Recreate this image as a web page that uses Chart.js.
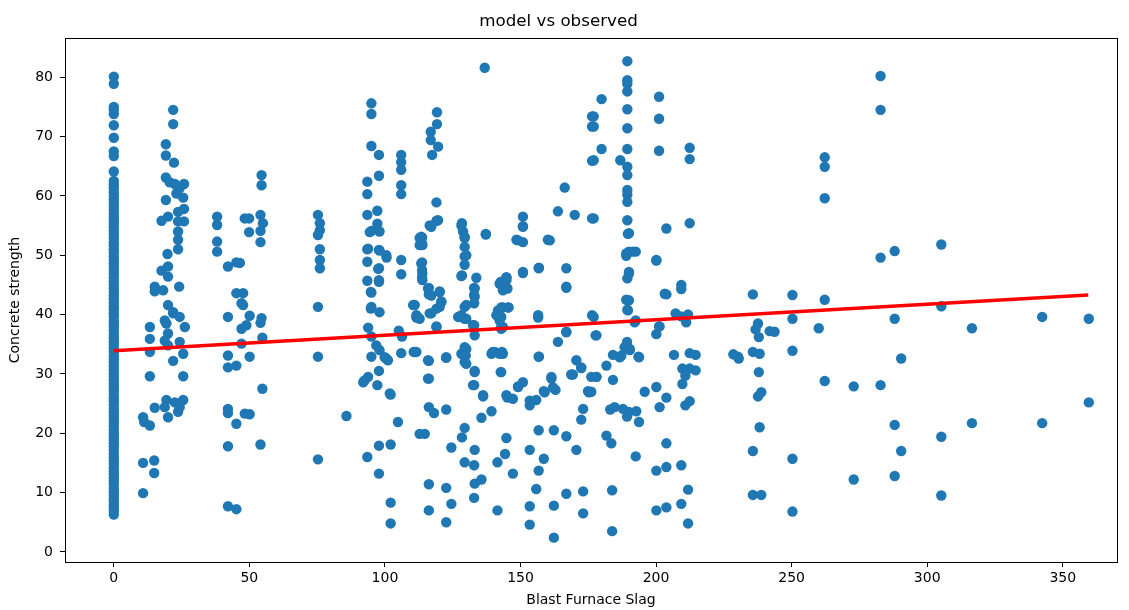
<!DOCTYPE html>
<html>
<head>
<meta charset="utf-8">
<title>model vs observed</title>
<script src="https://cdn.jsdelivr.net/npm/chart.js@4.4.1/dist/chart.umd.min.js"></script>
<style>
  html, body { margin: 0; padding: 0; background: #fff; }
  #wrap { width: 1129px; height: 610px; }
</style>
</head>
<body>
<div id="wrap"><canvas id="chart" width="1129" height="610"></canvas></div>
<script>
// Concrete strength against blast furnace slag content

// axis ticks
const xTicks = [0, 50, 100, 150, 200, 250, 300, 350];
const yTicks = [0, 10, 20, 30, 40, 50, 60, 70, 80];

// fitted regression line (slag -> strength)
const fitSlag = [0, 359.4];
const fitStrength = [33.9, 43.3];

// mixes with no slag at all
const zeroSlagStrength = [
  6.3, 6.9, 7.5, 8.0, 8.5, 9.0, 9.6, 10.1, 10.7, 11.4, 12.0, 12.5, 13.1, 13.6,
  14.2, 14.8, 15.4, 15.9, 16.5, 17.2, 17.8, 18.3, 18.9, 19.4, 20.0, 20.6, 21.3,
  21.9, 22.4, 23.0, 23.6, 24.1, 24.8, 25.4, 25.9, 26.5, 27.2, 27.7, 28.3, 28.9,
  29.5, 30.1, 30.7, 31.3, 31.9, 32.5, 33.0, 33.7, 34.3, 34.9, 35.4, 36.0, 36.6,
  37.3, 37.9, 38.5, 39.0, 39.7, 40.2, 40.9, 41.4, 42.0, 42.6, 43.2, 43.8, 44.4,
  45.0, 45.6, 46.2, 46.9, 47.4, 48.0, 48.6, 49.2, 49.8, 50.5, 51.0, 51.7, 52.2,
  52.9, 53.5, 54.1, 54.7, 55.3, 55.9, 56.4, 57.0, 57.6, 58.3, 58.8, 59.4, 60.0,
  60.6, 61.3, 61.9, 62.5, 64.1, 66.7, 67.5, 69.8, 71.9, 73.8, 74.5, 75.0, 78.9, 80.1
];

// [slag, strength] pairs, slag up to ~60
const slagLow = [
  [10.8, 22.7], [11.2, 21.9], [13.3, 21.3], [10.8, 15.0], [14.9, 15.4], [14.9, 13.3], [10.8, 9.9],
  [13.3, 37.9], [13.3, 35.9], [13.3, 33.7], [13.3, 29.6], [15.1, 24.3],
  [19.4, 38.5], [20.0, 36.8], [18.8, 35.6], [20.0, 34.8], [24.3, 35.4], [25.6, 33.4], [21.9, 32.2],
  [25.6, 29.6], [19.4, 25.6], [18.8, 24.4], [20.0, 22.7], [23.7, 23.6], [25.6, 25.6], [22.5, 25.2],
  [24.3, 24.4], [18.8, 39.0], [21.9, 40.4], [24.3, 39.6], [26.2, 37.9],
  [21.9, 74.5], [21.9, 72.1], [19.2, 68.7], [19.2, 66.8], [22.2, 65.6], [19.2, 63.1], [20.6, 62.3],
  [22.5, 62.0], [25.9, 62.0], [19.2, 59.3], [25.6, 59.7], [23.1, 60.4], [24.3, 61.3], [25.9, 57.8],
  [23.7, 57.3], [17.6, 55.8], [20.0, 56.5], [23.7, 55.7], [25.9, 55.7], [23.7, 54.0], [23.7, 52.6],
  [23.7, 51.0], [19.8, 50.2], [17.6, 47.4], [20.0, 48.1], [20.0, 46.4], [15.1, 44.7], [15.1, 43.9],
  [18.2, 44.1], [24.1, 44.7], [20.0, 41.6], [21.9, 40.2],
  [38.1, 56.5], [38.1, 55.1], [38.1, 52.3], [38.1, 50.6], [42.1, 48.1], [45.2, 48.8], [45.2, 43.6],
  [47.1, 41.9], [48.3, 56.2], [42.1, 39.6], [42.1, 33.1], [42.1, 31.1], [45.2, 31.4], [42.1, 24.1],
  [42.1, 23.4], [45.2, 21.6], [42.1, 17.8], [42.1, 7.7], [45.2, 7.2], [47.1, 37.6], [47.1, 35.1],
  [48.3, 23.3], [54.5, 63.5], [54.5, 61.8], [49.9, 56.2], [49.9, 53.9], [54.1, 56.8], [55.0, 55.4],
  [54.1, 54.1], [54.1, 52.2], [47.7, 43.6], [47.7, 41.6], [46.5, 48.7], [50.1, 39.8], [54.5, 39.4],
  [48.9, 38.2], [54.1, 38.6], [54.8, 36.1], [50.1, 32.9], [54.8, 27.5], [50.1, 23.2], [54.1, 18.1]
];

// slag ~75 to ~125
const slagMid = [
  [75.3, 56.8], [76.0, 55.4], [76.0, 54.2], [75.3, 53.4], [76.0, 51.0], [76.0, 49.2], [76.0, 47.8],
  [75.3, 41.3], [75.3, 32.9], [85.8, 22.9], [75.3, 15.6],
  [95.0, 75.6], [95.0, 73.8], [95.0, 68.4], [97.8, 66.9], [106.0, 66.9], [106.0, 65.7], [106.0, 64.4],
  [106.0, 61.8], [106.0, 60.3], [97.8, 63.4], [93.5, 62.4], [93.5, 60.3], [93.5, 56.8], [97.2, 57.5],
  [97.2, 55.3], [95.0, 54.1], [98.0, 54.0], [93.5, 51.0], [97.8, 50.9], [100.6, 49.6], [93.5, 48.9],
  [97.8, 47.8], [97.8, 45.8], [93.5, 45.7], [95.0, 43.7], [95.0, 41.3], [98.0, 40.4], [106.0, 49.2],
  [106.0, 46.8], [110.4, 41.6], [111.6, 39.9], [112.8, 52.9], [112.8, 51.7],
  [93.8, 37.8], [95.0, 36.3], [96.8, 34.8], [95.0, 32.9], [98.0, 34.0], [99.9, 32.8], [101.1, 32.3],
  [97.8, 30.5], [92.0, 28.6], [93.8, 29.5], [97.2, 28.1], [102.1, 26.5], [104.8, 21.9], [97.8, 17.9],
  [102.1, 18.1], [93.5, 16.0], [97.8, 13.2], [102.1, 8.3], [102.1, 4.8], [105.1, 37.3], [106.3, 36.3],
  [106.0, 33.5], [110.6, 33.7], [111.6, 39.5], [112.8, 19.9],
  [94.4, 53.9], [93.8, 51.1], [100.5, 50.0], [97.5, 47.7], [94.8, 43.8], [94.8, 41.0], [98.0, 50.8],
  [97.8, 45.5], [100.5, 32.6], [92.5, 28.9], [101.8, 26.7],
  [113.4, 53.1], [113.8, 51.7], [113.4, 48.6], [113.8, 46.9], [113.8, 45.8], [115.9, 44.4],
  [117.1, 43.2], [120.2, 43.8], [120.8, 42.1], [119.0, 41.0], [116.5, 40.2], [119.0, 37.9],
  [115.9, 32.3], [115.9, 29.2], [122.6, 32.8], [116.5, 55.0], [119.6, 55.9], [111.0, 41.6],
  [112.2, 39.5], [111.0, 33.7],
  [119.2, 74.1], [119.2, 72.1], [116.9, 70.8], [116.9, 69.4], [119.6, 68.3], [117.4, 66.9],
  [119.0, 58.9], [119.0, 55.8], [117.1, 54.8], [113.7, 53.0], [113.7, 52.0], [113.7, 48.8],
  [113.7, 47.5], [113.7, 46.2], [116.2, 44.5], [116.2, 43.4], [120.2, 43.9], [120.8, 42.2],
  [120.2, 41.3], [117.1, 40.2], [112.8, 39.3], [119.0, 38.0], [111.6, 33.7], [116.2, 32.2],
  [122.6, 32.7], [116.2, 29.2], [116.2, 24.4], [118.1, 23.4], [122.6, 24.0], [114.7, 19.9],
  [124.5, 17.6], [116.2, 11.4], [122.6, 10.8], [116.2, 7.0], [124.5, 8.1], [122.6, 5.0]
];

// slag ~125 to ~180
const slagUpper = [
  [136.8, 81.6], [176.4, 73.4], [176.4, 71.7], [176.4, 65.9], [166.3, 61.4], [163.8, 57.4],
  [170.0, 56.8], [176.4, 56.2], [150.9, 56.5], [150.9, 54.8], [137.2, 53.5], [128.4, 55.4],
  [128.8, 54.0], [129.4, 52.9], [129.4, 51.4], [129.4, 49.8], [129.4, 48.4], [148.5, 52.6],
  [150.9, 52.2], [160.1, 52.6], [128.4, 46.6], [133.7, 46.2], [150.9, 47.0], [156.7, 47.8],
  [166.9, 47.8], [166.9, 44.7], [132.9, 44.5], [132.9, 43.3], [132.9, 41.9], [129.4, 41.3],
  [142.7, 45.5], [144.8, 46.2], [145.2, 44.4], [142.9, 41.2], [145.6, 41.2], [128.2, 39.9],
  [156.5, 39.9], [176.4, 39.9],
  [127.0, 39.6], [129.4, 39.3], [132.9, 38.2], [133.1, 36.5], [141.7, 39.7], [142.9, 37.9],
  [156.5, 39.5], [166.9, 37.1], [163.8, 35.4], [129.4, 34.5], [128.2, 33.4], [129.4, 32.0],
  [133.1, 30.5], [139.3, 33.4], [143.2, 33.7], [142.7, 30.3], [156.7, 32.9], [170.6, 32.3],
  [172.4, 31.0], [169.3, 29.9], [176.1, 29.5], [132.9, 28.1], [136.2, 26.2], [149.1, 27.9],
  [150.9, 28.6], [145.2, 26.0], [147.2, 25.8], [153.4, 25.5], [153.4, 24.7], [155.8, 25.6],
  [158.6, 27.1], [161.4, 29.2], [162.9, 27.3], [174.9, 27.1], [173.1, 24.1], [172.4, 22.3],
  [139.3, 23.7], [135.6, 22.6], [129.4, 20.9], [128.4, 19.3], [133.1, 17.2], [144.8, 19.2],
  [144.3, 16.5], [141.5, 15.1], [129.4, 15.1], [132.9, 14.6], [153.4, 17.2], [156.7, 20.5],
  [162.3, 20.5], [166.9, 19.5], [170.6, 17.2], [158.6, 15.7], [156.7, 13.7], [147.2, 13.2],
  [135.6, 12.2], [133.1, 11.5], [155.8, 10.6], [132.9, 9.1], [166.9, 9.8], [173.1, 10.2],
  [141.5, 7.0], [153.4, 7.7], [153.4, 4.6], [162.3, 7.8], [162.3, 2.4], [173.1, 6.5],
  [128.2, 55.0], [129.4, 53.1], [130.0, 50.0], [128.2, 46.5], [133.1, 44.4], [133.1, 43.0],
  [130.0, 41.6], [127.5, 39.6], [130.0, 39.3], [132.5, 38.2], [130.0, 34.2], [129.8, 33.1],
  [130.0, 31.7], [133.1, 30.3], [132.5, 28.1], [136.2, 26.4], [137.2, 53.6], [144.8, 45.8],
  [142.3, 45.2], [143.5, 44.1], [141.7, 40.7], [142.9, 39.6], [143.5, 37.9], [140.5, 33.7],
  [143.5, 33.4], [142.9, 30.3], [144.8, 26.4],
  [150.9, 54.9], [149.1, 52.5], [160.8, 52.5], [150.9, 47.2], [156.8, 47.9], [166.9, 44.5],
  [144.8, 46.3], [142.9, 45.5], [143.5, 41.2], [145.4, 41.2], [141.1, 39.9], [142.3, 39.0],
  [142.9, 37.6], [166.9, 37.0], [178.0, 36.5], [177.0, 39.6], [142.3, 33.4], [139.8, 33.7],
  [156.8, 32.9], [172.4, 31.1], [168.7, 29.9], [178.0, 29.5], [161.4, 29.5], [162.0, 27.7],
  [149.1, 27.8], [158.9, 26.9], [175.2, 26.9]
];

// slag ~180 to ~215
const slagHigh = [
  [189.4, 82.7], [179.9, 76.3], [189.4, 79.5], [189.4, 78.9], [189.4, 77.6], [189.4, 74.6],
  [189.4, 71.4], [201.1, 76.7], [201.1, 73.0], [177.0, 73.4], [177.0, 71.7], [179.9, 67.9],
  [177.0, 66.0], [189.4, 67.9], [201.1, 67.6], [212.4, 68.1], [212.4, 66.2], [186.8, 66.0],
  [189.4, 64.9], [189.4, 63.5], [189.4, 61.0], [189.4, 60.2], [189.4, 59.0], [177.0, 56.2],
  [189.4, 55.9], [190.0, 53.7], [203.8, 54.5], [212.4, 55.4], [190.0, 50.6], [192.5, 50.6],
  [189.0, 49.9], [200.1, 49.2], [190.0, 46.9], [189.4, 46.1], [203.8, 43.4], [209.3, 45.0],
  [209.3, 44.3], [190.0, 42.4], [189.4, 40.8], [207.2, 40.2], [211.8, 40.0], [209.3, 39.7],
  [211.1, 38.7],
  [177.7, 36.5], [189.3, 35.4], [188.4, 34.5], [186.6, 32.8], [184.1, 33.2], [190.3, 34.0],
  [193.7, 32.8], [181.7, 31.4], [178.0, 29.5], [184.1, 29.0], [192.1, 38.7], [200.1, 36.7],
  [201.3, 38.0], [206.6, 33.2], [212.4, 33.5], [214.6, 33.2], [209.7, 30.9], [212.4, 30.9],
  [214.6, 30.6], [210.8, 29.7], [209.7, 28.3], [200.1, 27.8], [195.8, 27.0], [203.8, 26.0],
  [201.3, 24.4], [210.8, 24.7], [212.4, 25.4], [176.1, 27.0], [183.1, 24.0], [184.7, 24.4],
  [187.8, 24.1], [190.0, 23.6], [192.7, 23.7], [189.3, 22.8], [193.7, 21.9], [181.7, 19.6],
  [183.5, 18.3], [192.5, 16.1], [203.8, 18.3], [200.1, 13.7], [203.8, 14.3], [209.3, 14.6],
  [211.8, 10.5], [183.8, 10.4], [200.1, 7.0], [203.8, 7.5], [209.3, 8.1], [211.8, 4.8],
  [183.8, 3.5], [192.5, 39.0], [189.0, 42.5], [189.6, 40.7], [189.6, 53.6], [189.0, 50.3],
  [191.4, 50.6], [190.0, 47.2], [200.1, 49.1], [203.2, 43.5], [201.1, 38.0], [187.2, 33.1],
  [193.5, 32.9], [190.3, 34.2]
];

// slag above ~225
const slagVeryHigh = [
  [237.6, 38.5], [236.7, 37.5], [237.9, 36.2], [230.2, 32.9], [235.7, 33.7], [238.2, 33.4],
  [237.9, 30.3], [238.8, 26.9], [237.6, 26.2], [238.2, 21.0], [235.7, 17.0], [235.7, 9.6],
  [238.8, 9.6], [241.9, 37.2], [230.5, 32.6], [228.5, 33.3], [235.7, 43.4],
  [282.8, 80.2], [282.8, 74.5], [262.2, 66.5], [262.2, 64.9], [262.2, 59.6], [305.2, 51.8],
  [288.0, 50.7], [282.8, 49.6], [250.3, 43.3], [262.2, 42.5], [305.2, 41.4], [250.3, 39.3],
  [288.0, 39.3], [342.4, 39.6], [359.6, 39.3], [260.0, 37.7], [316.5, 37.7], [243.7, 37.1],
  [250.3, 33.9], [290.4, 32.6], [262.2, 28.8], [272.9, 27.9], [282.8, 28.1], [359.6, 25.2],
  [288.0, 21.4], [316.5, 21.7], [342.4, 21.7], [305.2, 19.4], [290.4, 17.0], [250.3, 15.7],
  [272.9, 12.2], [288.0, 12.8], [305.2, 9.5], [250.3, 6.8]
];

const font = { family: '"DejaVu Sans", sans-serif', size: 14 };

const observed = [
  ...zeroSlagStrength.map(y => ({ x: 0, y })),
  ...[slagLow, slagMid, slagUpper, slagHigh, slagVeryHigh].flat().map(([x, y]) => ({ x, y }))
];
const fitted = fitSlag.map((x, i) => ({ x, y: fitStrength[i] }));

// matplotlib-style box around the plot area
const frame = {
  id: 'frame',
  afterDatasetsDraw(chart) {
    const { ctx, chartArea: a } = chart;
    ctx.save();
    ctx.strokeStyle = '#000';
    ctx.lineWidth = 1;
    ctx.strokeRect(Math.round(a.left) + 0.5, Math.round(a.top) + 0.5,
      Math.round(a.right - a.left), Math.round(a.bottom - a.top));
    ctx.restore();
  }
};

const axisStyle = {
  type: 'linear',
  grid: { display: true, drawOnChartArea: false, drawTicks: true, tickLength: 5, tickColor: '#000' },
  border: { display: true, color: '#000', width: 1 },
};

new Chart(document.getElementById('chart'), {
  data: {
    datasets: [
      {
        type: 'line',
        data: fitted,
        borderColor: '#ff0000',
        borderWidth: 3.5,
        pointRadius: 0,
        order: 0
      },
      {
        type: 'scatter',
        data: observed,
        backgroundColor: '#1f77b4',
        borderColor: '#1f77b4',
        borderWidth: 0,
        pointRadius: 5.2,
        order: 1
      }
    ]
  },
  options: {
    responsive: false,
    animation: false,
    events: [],
    layout: { padding: { left: 0, right: 12, top: 0, bottom: 0 } },
    plugins: {
      legend: { display: false },
      tooltip: { enabled: false },
      title: {
        display: true,
        text: 'model vs observed',
        color: '#000',
        font: { family: font.family, size: 16.7, weight: 'normal' },
        padding: { top: 12, bottom: 6 }
      }
    },
    scales: {
      x: {
        ...axisStyle,
        position: 'bottom',
        min: -18,
        max: 370,
        afterBuildTicks: s => { s.ticks = xTicks.map(v => ({ value: v })); },
        afterFit: s => { s.height = 48; },
        ticks: { font, color: '#000', padding: 3, maxRotation: 0, autoSkip: false },
        title: { display: true, text: 'Blast Furnace Slag', color: '#000', font, padding: { top: 0, bottom: 1 } }
      },
      y: {
        ...axisStyle,
        position: 'left',
        min: -1.7,
        max: 86.6,
        afterBuildTicks: s => { s.ticks = yTicks.map(v => ({ value: v })); },
        afterFit: s => { s.width = 65; },
        ticks: { font, color: '#000', padding: 7 },
        title: { display: true, text: 'Concrete strength', color: '#000', font, padding: { top: 7, bottom: 0 } }
      }
    }
  },
  plugins: [frame]
});
</script>
</body>
</html>
